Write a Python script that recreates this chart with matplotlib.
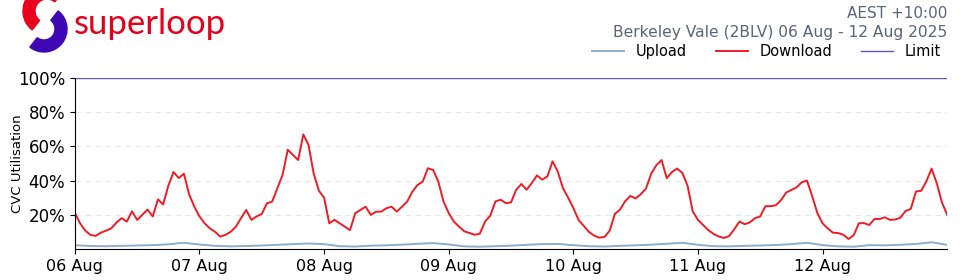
import pandas as pd
import matplotlib
matplotlib.use('Agg')
import matplotlib.pyplot as plt
import matplotlib.dates as mdates
from matplotlib.patches import Wedge

# hourly download utilisation (%) per day, 06 Aug .. 12 Aug, plus final reading
dl_06 = [21, 15, 10.7, 8.2, 7.6, 9.5, 10.7, 12, 15.4, 18, 16, 22, 17, 20, 23, 19, 29, 26, 37, 45, 41.5, 44, 32, 24.7]
dl_07 = [19, 15, 12, 10, 7.2, 8.2, 10, 13, 18, 22.8, 17, 19, 20.5, 26.7, 27.7, 35.5, 43.3, 58, 55, 52, 67, 60.8, 44, 34]
dl_08 = [30, 15, 17, 15, 13, 11, 20.9, 22.8, 24.7, 19.9, 21.8, 21.8, 23.8, 24.7, 21.8, 24.7, 27.7, 33.5, 37.4, 39.4, 47.2, 46.2, 39.4, 27.7]
dl_09 = [21, 16, 13, 10.3, 9.3, 8.3, 8.9, 16, 19.4, 27.8, 28.8, 26.8, 27.2, 34.6, 38, 34.6, 38.5, 43, 40.5, 42.4, 51.2, 45.3, 35.6, 30]
dl_10 = [24, 17, 13.5, 10, 7.8, 6.6, 7, 10.6, 20.5, 23, 28, 31, 29.5, 32, 35.3, 44, 49, 52, 41.4, 45, 47, 44.5, 37, 22]
dl_11 = [17, 14, 11, 8.8, 7.3, 6.4, 7.5, 11.5, 16, 14.5, 15.5, 18, 19, 25, 25, 25.5, 28.5, 33, 34.5, 36, 39, 40, 31, 21]
dl_12 = [15, 12, 9.5, 9.3, 8.3, 5.8, 8, 15, 15.1, 14, 17.5, 17.5, 18.5, 17, 17.2, 18.3, 22.2, 23.4, 33.6, 34, 39.5, 47, 38.5, 27.2]
dl_end = [20]

# upload utilisation (%) every 3 hours
ul_06 = [2.2, 1.7, 1.6, 1.8, 2.0, 2.2, 2.7, 3.6]
ul_07 = [2.6, 1.8, 1.5, 1.7, 2.0, 2.4, 2.8, 3.2]
ul_08 = [2.8, 1.6, 1.4, 1.9, 2.1, 2.5, 3.0, 3.4]
ul_09 = [2.6, 1.5, 1.3, 1.6, 1.9, 2.4, 2.8, 2.9]
ul_10 = [2.2, 1.6, 1.4, 1.8, 2.1, 2.5, 3.0, 3.6]
ul_11 = [2.4, 1.6, 1.5, 1.8, 2.0, 2.3, 2.8, 3.6]
ul_12 = [2.2, 1.5, 1.3, 2.2, 2.1, 2.4, 2.9, 3.9]
ul_end = [2.4]

limit = 100
day_ticks = ['2025-08-06', '2025-08-07', '2025-08-08', '2025-08-09', '2025-08-10', '2025-08-11', '2025-08-12']

download = dl_06 + dl_07 + dl_08 + dl_09 + dl_10 + dl_11 + dl_12 + dl_end
upload = ul_06 + ul_07 + ul_08 + ul_09 + ul_10 + ul_11 + ul_12 + ul_end
dl_time = pd.date_range('2025-08-06', periods=len(download), freq='h')
ul_time = pd.date_range('2025-08-06', periods=len(upload), freq='3h')

fig = plt.figure(figsize=(9.6, 2.8), dpi=100)

# logo drawn in pixel space
lax = fig.add_axes([0, 0, 1, 1])
lax.set_xlim(0, 960)
lax.set_ylim(0, 280)
lax.axis('off')
lax.add_patch(Wedge((47, 280 - 11), 24, 50, 232, width=12, color='#e8001c'))
lax.add_patch(Wedge((44, 280 - 29), 23, 232, 412, width=12, color='#3e08b4'))
lax.text(74, 280 - 24, 'superloop', color='#e3001b', fontsize=25, family='Lato',
         va='center', ha='left')

ax = fig.add_axes([0.078, 0.111, 0.9086, 0.6104])
l_up, = ax.plot(ul_time, upload, color='#8eaccc', lw=1.4, label='Upload')
l_dn, = ax.plot(dl_time, download, color='#ee1c25', lw=1.4, label='Download')
l_lim = ax.axhline(limit, color='#5b5bc8', lw=1.0, label='Limit')

ax.set_xlim(pd.Timestamp('2025-08-06'), pd.Timestamp('2025-08-13'))
ax.set_ylim(0, 100)
ax.set_yticks([20, 40, 60, 80, 100])
ax.set_yticklabels(['20%', '40%', '60%', '80%', '100%'], fontsize=12)
ax.set_xticks(pd.to_datetime(day_ticks))
ax.xaxis.set_major_formatter(mdates.DateFormatter('%d %b'))
ax.tick_params(axis='x', labelsize=11.5)
ax.set_ylabel('CVC Utilisation', fontsize=9.5)
ax.yaxis.set_label_coords(-0.058, 0.5)
ax.grid(axis='y', color='#e3e8f0', linestyle=(0, (5, 4)), lw=0.8)
ax.spines['top'].set_visible(False)
ax.spines['right'].set_visible(False)

ax.legend(handles=[l_up, l_dn, l_lim], ncol=3, frameon=False, fontsize=10.5,
          loc='center right', bbox_to_anchor=(1.0, 1.155),
          handlelength=2.2, handletextpad=0.8, columnspacing=2.0, borderaxespad=0)

fig.text(947 / 960, 1 - 14 / 280, 'AEST +10:00', ha='right', va='center',
         fontsize=11, color='#5b6577')
fig.text(947 / 960, 1 - 32 / 280, 'Berkeley Vale (2BLV) 06 Aug - 12 Aug 2025',
         ha='right', va='center', fontsize=11.2, color='#5b6577')

fig.savefig('out.png', dpi=100)
